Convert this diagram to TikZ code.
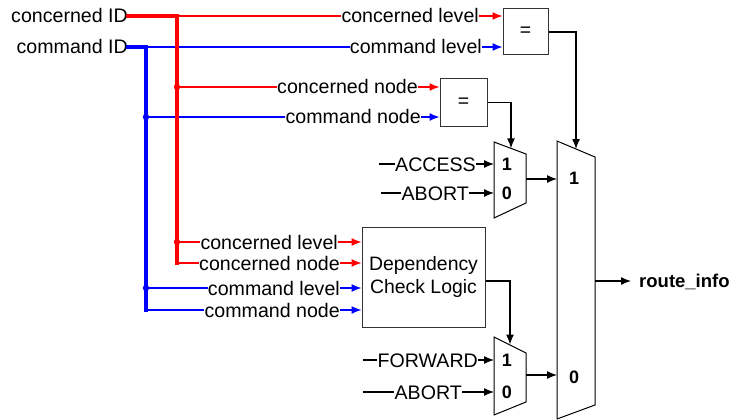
\documentclass[tikz,border=0pt]{standalone}
\usepackage{fontspec}
\setmainfont{Liberation Sans}
\usetikzlibrary{arrows.meta}
\begin{document}
\begin{tikzpicture}[x=1pt,y=-1pt,
  lbl/.style={inner sep=0pt, font=\fontsize{19.6}{21}\selectfont, text height=14pt, text depth=0pt},
  num/.style={inner sep=0pt, font=\fontsize{18}{20}\selectfont\bfseries},
  blk/.style={draw=black!80, line width=1pt, inner sep=0pt, font=\fontsize{19.4}{23}\selectfont},
  mux/.style={draw=black, line width=1pt, line join=miter},
  wire/.style={line width=1.3pt},
  bus/.style={line width=3.6pt},
  arr/.style={-{Latex[length=10pt,width=8pt]}},
  jdot/.style={radius=3.2pt}
]
\useasboundingbox (0,0) rectangle (734,420);

% ---- source signals
\node[lbl,anchor=east] (cid) at (128,16) {concerned ID};
\node[lbl,anchor=east] (mid) at (128,47) {command ID};

% ---- comparators and dependency check
\node[blk, minimum width=45pt, minimum height=46pt] (eq1) at (525.5,32) {=};
\node[blk, minimum width=47pt, minimum height=47pt] (eq2) at (463.5,102.5) {=};
\node[blk, minimum width=123pt, minimum height=100pt, align=center] (dcl) at (423.5,277) {Dependency\\Check Logic};

% ---- wire labels
\node[lbl,anchor=east] (cl1) at (479,16) {concerned level};
\node[lbl,anchor=east] (ml1) at (482,47) {command level};
\node[lbl,anchor=east] (cn2) at (418,87) {concerned node};
\node[lbl,anchor=east] (mn2) at (421,117) {command node};
\node[lbl,anchor=east] (cl3) at (338,242) {concerned level};
\node[lbl,anchor=east] (cn3) at (340,263) {concerned node};
\node[lbl,anchor=east] (ml3) at (340,288) {command level};
\node[lbl,anchor=east] (mn3) at (340,310) {command node};

% ---- bus corners
\coordinate (btop) at (146,47);
\coordinate (bbot) at (146,310);
\coordinate (rtop) at (177,16);
\coordinate (rbot) at (177,263);

% ---- command ID bus (blue)
\begin{scope}[blue]
  \draw[wire] (btop) -- (ml1.west);
  \draw[wire] (btop |- mn2.west) -- (mn2.west);
  \draw[wire] (btop |- ml3.west) -- (ml3.west);
  \draw[wire] (bbot) -- (mn3.west);
  \draw[bus, line cap=rect] (mid.east) -- (btop) -- (bbot);
  \fill (btop |- mn2.west) circle[jdot];
  \fill (btop |- ml3.west) circle[jdot];
  \draw[wire,arr] (ml1.east) -- (eq1.west |- ml1.east);
  \draw[wire,arr] (mn2.east) -- (eq2.west |- mn2.east);
  \draw[wire,arr] (ml3.east) -- (dcl.west |- ml3.east);
  \draw[wire,arr] (mn3.east) -- (dcl.west |- mn3.east);
\end{scope}

% ---- concerned ID bus (red)
\begin{scope}[red]
  \draw[wire] (rtop) -- (cl1.west);
  \draw[wire] (rtop |- cn2.west) -- (cn2.west);
  \draw[wire] (rtop |- cl3.west) -- (cl3.west);
  \draw[wire] (rbot) -- (cn3.west);
  \draw[bus, line cap=rect] (cid.east) -- (rtop) -- (rbot);
  \fill (rtop |- cn2.west) circle[jdot];
  \fill (rtop |- cl3.west) circle[jdot];
  \draw[wire,arr] (cl1.east) -- (eq1.west |- cl1.east);
  \draw[wire,arr] (cn2.east) -- (eq2.west |- cn2.east);
  \draw[wire,arr] (cl3.east) -- (dcl.west |- cl3.east);
  \draw[wire,arr] (cn3.east) -- (dcl.west |- cn3.east);
\end{scope}

% ---- first-stage multiplexers
\draw[mux] (494,142) coordinate (ma) -- (526,154) -- (526,203) -- (494,218) -- cycle;
\draw[mux] (494,337) coordinate (mb) -- (526,353) -- (526,402) -- (494,415) -- cycle;
\node[num] (ma1) at (507,164) {1};
\node[num] (ma0) at (507,193) {0};
\node[num] (mb1) at (507,360) {1};
\node[num] (mb0) at (507,392) {0};
\coordinate (masel) at (511,148.4);
\coordinate (mbsel) at (510,344.5);
\coordinate (maout) at (526,179);
\coordinate (mbout) at (526,375);

% ---- output multiplexer
\draw[mux] (557,141) -- (595,157) -- (595,405) -- (557,419) -- cycle;
\node[num] (mc1) at (574,178) {1};
\node[num] (mc0) at (574,377) {0};
\coordinate (mcsel) at (576,149);
\coordinate (mcin1) at (557,179);
\coordinate (mcin0) at (557,375);
\coordinate (mcout) at (595,281);

% ---- constant inputs
\node[lbl,anchor=east] (acc) at (476,164) {ACCESS};
\node[lbl,anchor=east] (ab1) at (469,193) {ABORT};
\node[lbl,anchor=east] (fwd) at (478,360) {FORWARD};
\node[lbl,anchor=east] (ab2) at (462,392) {ABORT};
\coordinate (accs) at (379,164);
\coordinate (ab1s) at (381,193);
\coordinate (fwds) at (363,360);
\coordinate (ab2s) at (363,392);
\draw[wire] (accs) -- (acc.west);
\draw[wire] (ab1s) -- (ab1.west);
\draw[wire] (fwds) -- (fwd.west);
\draw[wire] (ab2s) -- (ab2.west);
\draw[wire,arr] (acc.east) -- (ma |- acc.east);
\draw[wire,arr] (ab1.east) -- (ma |- ab1.east);
\draw[wire,arr] (fwd.east) -- (mb |- fwd.east);
\draw[wire,arr] (ab2.east) -- (mb |- ab2.east);

% ---- select and data paths
\draw[wire,arr] (eq1.east) -| (mcsel);
\draw[wire,arr] (eq2.east) -| (masel);
\draw[wire,arr] (dcl.east |- 0,281) -| (mbsel);
\draw[wire,arr] (maout) -- (mcin1);
\draw[wire,arr] (mbout) -- (mcin0);

% ---- result
\node[inner sep=0pt, anchor=west, font=\fontsize{18.5}{21}\selectfont\bfseries, text height=13.6pt, text depth=0pt] (ri) at (639,281) {route\_info};
\draw[wire,arr] (mcout) -- (ri.west -| 631,0);
\end{tikzpicture}
\end{document}
